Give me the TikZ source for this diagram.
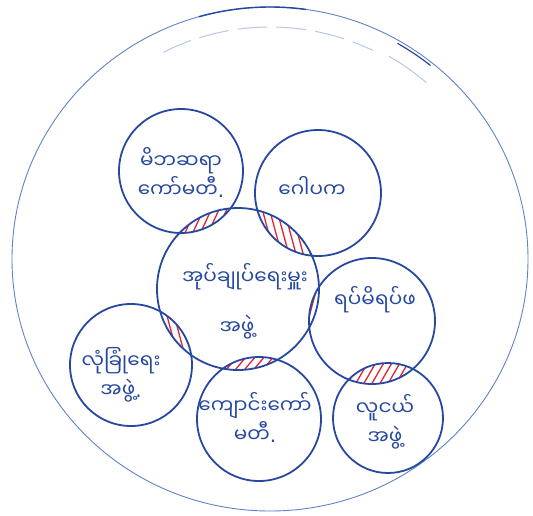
\documentclass[tikz,border=0pt]{standalone}
\usepackage{fontspec}
\newfontfamily\mm[Script=Myanmar]{Noto Sans Myanmar UI}
\newfontfamily\dotfont{DejaVu Sans}
\usetikzlibrary{calc}
\definecolor{pen}{RGB}{38,72,158}
\definecolor{penlight}{RGB}{95,130,200}
\definecolor{hatchred}{RGB}{225,35,50}
\newcommand\fullstop{{\dotfont .}}
\newcommand\lenshatch[5]{%
  \begin{scope}
    \clip (#1.center) circle[radius=#3];
    \clip (#2.center) circle[radius=#4];
    \begin{scope}[shift={($(#1.center)!0.5!(#2.center)$)}, rotate=#5]
      \foreach \i in {-70,-63,...,70} \draw[hatchline] (\i,-80) -- (\i,80);
    \end{scope}
  \end{scope}}
\begin{document}
\begin{tikzpicture}[x=1pt,y=-1pt,
  ringline/.style={draw=pen, line width=1.8pt},
  outerring/.style={draw=penlight, line width=0.9pt},
  mmtext/.style={text=pen, font=\mm\fontsize{20}{29}\selectfont, align=center, inner sep=0pt},
  hatchline/.style={draw=hatchred, line width=1.3pt}]
\useasboundingbox (0,0) rectangle (533,515);
% outer boundary
\coordinate (oc) at (270,259);
\draw[outerring] (oc) ellipse [x radius=258, y radius=252];
\draw[pen, line width=1.4pt] (oc) ++(254:258 and 252) arc[start angle=254, end angle=278, x radius=258, y radius=252];
\draw[pen, line width=1.2pt] (oc) ++(300:255 and 249) arc[start angle=300, end angle=309, x radius=255, y radius=249];
\draw[penlight, opacity=0.45, line width=1pt, dash pattern=on 30pt off 9pt] (oc) ++(243:235 and 232) arc[start angle=243, end angle=296, x radius=235, y radius=232];
\draw[penlight, opacity=0.45, line width=1pt] (oc) ++(300:238 and 234) arc[start angle=300, end angle=311, x radius=238, y radius=234];
% circle centres
\coordinate (tl) at (181,171);
\coordinate (gp) at (318,193);
\coordinate (ce) at (238,289);
\coordinate (rp) at (372,321);
\coordinate (ls) at (131,365);
\coordinate (sc) at (259,419);
\coordinate (yo) at (388,418);
% hatched overlaps
\lenshatch{ce}{tl}{81}{62}{-25}
\lenshatch{ce}{gp}{81}{63}{15}
\lenshatch{ce}{rp}{81}{63}{-15}
\lenshatch{ce}{ls}{81}{61}{15}
\lenshatch{ce}{sc}{81}{62}{-40}
\lenshatch{rp}{yo}{63}{55}{-30}
% circle outlines
\draw[ringline] (tl) circle[radius=62];
\draw[ringline] (gp) circle[radius=63];
\draw[ringline] (ce) circle[radius=81];
\draw[ringline] (rp) circle[radius=63];
\draw[ringline] (ls) circle[radius=61];
\draw[ringline] (sc) circle[radius=62];
\draw[ringline] (yo) circle[radius=55];
% texts
\node[mmtext] (ttl) at (181,172) {မိဘဆရာ\\ကော်မတီ\fullstop};
\node[mmtext] (tgp) at (312,187) {ဂေါပက};
\node[mmtext] (tc1) at (245,277) {အုပ်ချုပ်ရေးမှူး};
\node[mmtext] (tc2) at (237,327) {အဖွဲ့};
\node[mmtext] (trp) at (375,300) {ရပ်မိရပ်ဖ};
\node[mmtext] (tls) at (121,375) {လုံခြုံရေး\\အဖွဲ့\fullstop};
\node[mmtext] (tsc) at (255,417) {ကျောင်းကော်\\မတီ\fullstop};
\node[mmtext] (tyo) at (385,422) {လူငယ်\\အဖွဲ့};
\end{tikzpicture}
\end{document}
